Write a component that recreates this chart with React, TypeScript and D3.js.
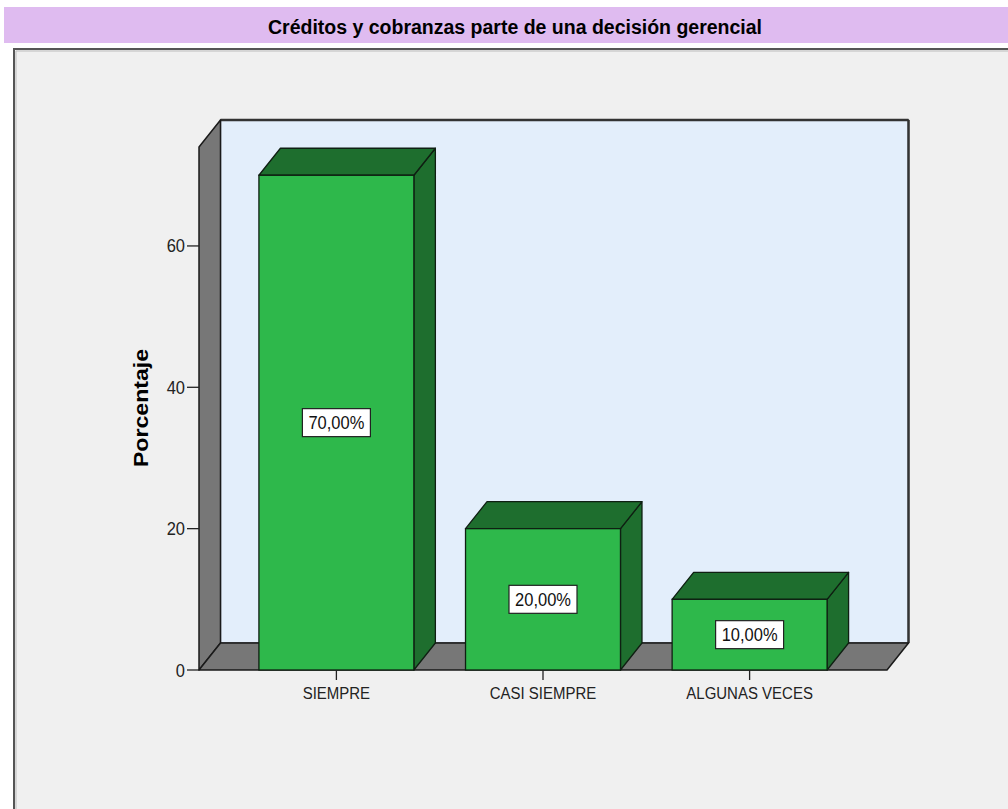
import React from "react";
import * as d3 from "d3";

const categories = ["SIEMPRE", "CASI SIEMPRE", "ALGUNAS VECES"];
const values = [70, 20, 10];
const valueLabels = ["70,00%", "20,00%", "10,00%"];
const yTicks = [0, 20, 40, 60];
const title = "Créditos y cobranzas parte de una decisión gerencial";
const yTitle = "Porcentaje";

const W = 1008;
const H = 809;
const DX = 21.5;
const DY = -27;
const FONT = "'Liberation Sans', Arial, sans-serif";

export default function App() {
  const x = d3.scaleBand<string>().domain(categories).range([199, 887]).paddingInner(0.25).paddingOuter(0.29);
  const y = d3.scaleLinear().domain([0, 74]).range([670, 147]);
  const x0 = 199, x1 = 887, y0 = y(0), yTop = y(74);
  const pts = (a: number[][]) => a.map((p) => p.join(",")).join(" ");
  const sy = 1.12;

  return (
    <svg width={W} height={H} style={{ position: "absolute", left: 0, top: 0, background: "#ffffff" }}>
      {/* title band */}
      <rect x={4} y={7} width={W - 4} height={36} fill="#dfbbf0" />
      <text
        transform={`translate(515,34) scale(1,1.1)`}
        textAnchor="middle"
        fontFamily={FONT}
        fontWeight="bold"
        fontSize={18}
        textLength={494}
        lengthAdjust="spacingAndGlyphs"
        fill="#000"
      >
        {title}
      </text>
      {/* frame */}
      <rect x={13} y={48} width={W - 13} height={H - 48} fill="#f0f0f0" />
      <line x1={14} y1={48} x2={14} y2={H} stroke="#555" strokeWidth={2} />
      <line x1={13} y1={49} x2={W} y2={49} stroke="#555" strokeWidth={2} />
      <line x1={16} y1={51} x2={W} y2={51} stroke="#bbb" strokeWidth={1} />
      <line x1={16} y1={51} x2={16} y2={H} stroke="#bbb" strokeWidth={1} />

      {/* back wall */}
      <rect x={x0 + DX} y={yTop + DY} width={x1 - x0} height={y0 - yTop} fill="#e3eefb" stroke="#222" strokeWidth={1.2} />
      <line x1={x0 + DX} y1={yTop + DY} x2={x1 + DX} y2={yTop + DY} stroke="#333" strokeWidth={2.5} />
      <line x1={x1 + DX} y1={yTop + DY} x2={x1 + DX} y2={y0 + DY} stroke="#333" strokeWidth={2.5} />
      {/* left wall */}
      <polygon
        points={pts([[x0, yTop], [x0 + DX, yTop + DY], [x0 + DX, y0 + DY], [x0, y0]])}
        fill="#777777"
        stroke="#1a1a1a"
        strokeWidth={1.5}
        strokeLinejoin="round"
      />
      {/* floor */}
      <polygon
        points={pts([[x0, y0], [x0 + DX, y0 + DY], [x1 + DX, y0 + DY], [x1, y0]])}
        fill="#777777"
        stroke="#1a1a1a"
        strokeWidth={1.5}
        strokeLinejoin="round"
      />

      {/* bars */}
      {categories.map((c, i) => {
        const bx = x(c)!;
        const bw = x.bandwidth();
        const by = y(values[i]);
        return (
          <g key={c}>
            <polygon
              points={pts([[bx + bw, by], [bx + bw + DX, by + DY], [bx + bw + DX, y0 + DY], [bx + bw, y0]])}
              fill="#1e6e2e"
              stroke="#0f1f12"
              strokeWidth={1.3}
              strokeLinejoin="round"
            />
            <polygon
              points={pts([[bx, by], [bx + DX, by + DY], [bx + bw + DX, by + DY], [bx + bw, by]])}
              fill="#1e6e2e"
              stroke="#0f1f12"
              strokeWidth={1.3}
              strokeLinejoin="round"
            />
            <rect x={bx} y={by} width={bw} height={y0 - by} fill="#2eb84b" stroke="#0f1f12" strokeWidth={1.3} />
          </g>
        );
      })}

      {/* value labels */}
      {categories.map((c, i) => {
        const cx = x(c)! + x.bandwidth() / 2;
        const cy = (y(values[i]) + y0) / 2;
        const bw = 68, bh = 28;
        return (
          <g key={"l" + c}>
            <rect x={cx - bw / 2} y={cy - bh / 2} width={bw} height={bh} fill="#ffffff" stroke="#222" strokeWidth={1.2} />
            <text
              transform={`translate(${cx},${cy + 6.5}) scale(1,${sy})`}
              textAnchor="middle"
              fontFamily={FONT}
              fontSize={16.5}
              fill="#111"
            >
              {valueLabels[i]}
            </text>
          </g>
        );
      })}

      {/* y axis ticks */}
      {yTicks.map((t) => (
        <g key={"t" + t}>
          <line x1={187} x2={x0} y1={y(t)} y2={y(t)} stroke="#222" strokeWidth={1.3} />
          <text
            transform={`translate(185,${y(t) + 6.5}) scale(1,${sy})`}
            textAnchor="end"
            fontFamily={FONT}
            fontSize={16.5}
            fill="#222"
          >
            {t}
          </text>
        </g>
      ))}

      {/* x axis ticks and labels */}
      {categories.map((c) => {
        const cx = x(c)! + x.bandwidth() / 2;
        return (
          <g key={"x" + c}>
            <line x1={cx} x2={cx} y1={y0} y2={y0 + 10} stroke="#222" strokeWidth={1.3} />
            <text
              transform={`translate(${cx},699) scale(1,${sy})`}
              textAnchor="middle"
              fontFamily={FONT}
              fontSize={15}
              fill="#222"
            >
              {c}
            </text>
          </g>
        );
      })}

      {/* y axis title */}
      <text
        transform={`translate(148,408) scale(1,1.1) rotate(-90)`}
        textAnchor="middle"
        fontFamily={FONT}
        fontWeight="bold"
        fontSize={21}
        fill="#000"
      >
        {yTitle}
      </text>
    </svg>
  );
}
